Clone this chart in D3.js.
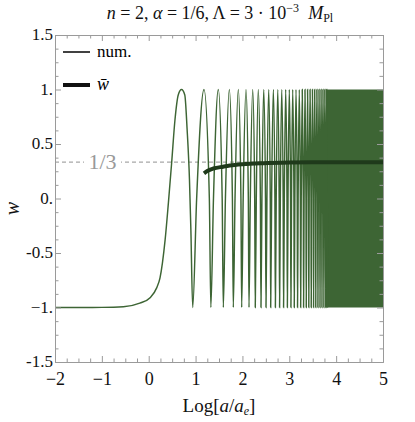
<!DOCTYPE html>
<html>
<head>
<meta charset="utf-8">
<script src="https://cdn.jsdelivr.net/npm/d3@7"></script>
<style>
  body { margin: 0; background: #fff; }
  text { font-family: "Liberation Serif", "Times New Roman", serif; }
</style>
</head>
<body>
<div id="chart"></div>
<script>
// start of the curve (w = -1 plateau, rise and first full peak)
const rampX = [-2, -1.5, -1, -0.54, -0.19, 0.03, 0.17, 0.24, 0.35, 0.42, 0.49, 0.56, 0.63, 0.70, 0.77, 0.82, 0.87, 0.90];
const rampW = [-1, -1, -0.999, -0.993, -0.96, -0.91, -0.82, -0.73, -0.38, -0.04, 0.33, 0.72, 0.95, 1.0, 0.95, 0.63, 0.17, -0.29];

// oscillation: minima (w=-1), rising zero crossings, maxima (w=1), falling zero crossings
const troughX = [0.939, 1.326, 1.592, 1.805, 1.984, 2.140, 2.274, 2.396, 2.503, 2.603, 2.703, 2.793, 2.878, 2.959, 3.035,
                 3.106, 3.176, 3.243, 3.305, 3.362, 3.416, 3.468, 3.518, 3.565, 3.611, 3.655, 3.697, 3.738, 3.777, 3.815];
const riseX = [1.023, 1.382, 1.637, 1.842, 2.016, 2.168, 2.296, 2.416, 2.523, 2.623, 2.721, 2.809, 2.894, 2.973, 3.048,
               3.119, 3.189, 3.255, 3.316, 3.372, 3.425, 3.477, 3.526, 3.573, 3.619, 3.663, 3.704, 3.745, 3.784];
const peakX = [1.180, 1.485, 1.720, 1.912, 2.076, 2.219, 2.338, 2.454, 2.560, 2.659, 2.753, 2.838, 2.923, 3.000, 3.073,
               3.143, 3.213, 3.277, 3.335, 3.390, 3.443, 3.494, 3.542, 3.589, 3.634, 3.677, 3.718, 3.758, 3.797];
const fallX = [1.294, 1.568, 1.786, 1.968, 2.126, 2.262, 2.383, 2.492, 2.594, 2.693, 2.784, 2.869, 2.951, 3.027, 3.099,
               3.169, 3.236, 3.299, 3.356, 3.410, 3.463, 3.513, 3.560, 3.606, 3.650, 3.693, 3.734, 3.773, 3.811];

// unresolved fast oscillation, fills -1..1
const bandX = [3.78, 5];
const bandW = [-1, 1];

// averaged equation of state
const wbarX = [1.18, 1.25, 1.38, 1.59, 1.73, 2.0, 2.45, 3.0, 3.5, 4, 5];
const wbarW = [0.231, 0.252, 0.275, 0.292, 0.302, 0.314, 0.324, 0.330, 0.332, 0.333, 0.333];

const radW = 1 / 3;

const xTicks = [-2, -1, 0, 1, 2, 3, 4, 5];
const xTickLabels = ["\u22122", "\u22121", "0", "1", "2", "3", "4", "5"];
const yTicks = [-1.5, -1, -0.5, 0, 0.5, 1, 1.5];
const yTickLabels = ["-1.5", "\u22121.", "-0.5", "0.", "0.5", "1.", "1.5"];

const width = 415, height = 422;
const m = { left: 55, right: 383, top: 35, bottom: 362 };

const green = "#3d6534";
const frameColor = "#9a9a9a";
const serif = "'Liberation Serif', 'Times New Roman', serif";

const svg = d3.select("#chart").append("svg")
  .attr("width", width)
  .attr("height", height);

const x = d3.scaleLinear().domain([-2, 5]).range([m.left, m.right]);
const y = d3.scaleLinear().domain([-1.5, 1.5]).range([m.bottom, m.top]);

svg.append("clipPath").attr("id", "plot")
  .append("rect")
  .attr("x", m.left).attr("y", m.top)
  .attr("width", m.right - m.left).attr("height", m.bottom - m.top);

// dashed 1/3 line
svg.append("line")
  .attr("x1", x(-2)).attr("x2", x(5))
  .attr("y1", y(radW)).attr("y2", y(radW))
  .attr("stroke", "#a8a8a8")
  .attr("stroke-width", 1.3)
  .attr("stroke-dasharray", "4,3");

// label 1/3 with white box to break the dashes
const lbl = svg.append("g");
lbl.append("rect")
  .attr("x", 84).attr("y", y(radW) - 11)
  .attr("width", 37).attr("height", 22)
  .attr("fill", "#fff");
lbl.append("text")
  .attr("x", 102.5).attr("y", y(radW) + 7)
  .attr("text-anchor", "middle")
  .attr("font-family", serif)
  .attr("font-size", 22)
  .attr("fill", "#999")
  .text("1/3");

// build oscillating curve
let pts = rampX.map((d, i) => [d, rampW[i]]);
troughX.forEach((t, i) => {
  pts.push([t, -1]);
  if (i < peakX.length) {
    pts.push([riseX[i], 0]);
    pts.push([peakX[i], 1]);
    pts.push([fallX[i], 0]);
  }
});

const line = d3.line()
  .x(d => x(d[0]))
  .y(d => y(d[1]))
  .curve(d3.curveMonotoneX);

const plot = svg.append("g").attr("clip-path", "url(#plot)");

plot.append("path")
  .datum(bandX)
  .attr("d", d3.area().x(d => x(d)).y0(y(bandW[0])).y1(y(bandW[1])))
  .attr("fill", green);

plot.append("path")
  .datum(pts)
  .attr("d", line)
  .attr("fill", "none")
  .attr("stroke", green)
  .attr("stroke-width", 1.45);

plot.append("path")
  .datum(wbarX.map((d, i) => [d, wbarW[i]]))
  .attr("d", line)
  .attr("fill", "none")
  .attr("stroke", "#1f3a1b")
  .attr("stroke-width", 4);

// frame + ticks
const minorX = d3.range(-2, 5.001, 0.25).filter(v => !xTicks.includes(v));
const minorY = d3.range(-1.5, 1.5001, 0.125).filter(v => !yTicks.includes(v));

function drawAxis(axis, pos, ticks, size, labels) {
  const g = svg.append("g").attr("transform", pos).call(axis.tickValues(ticks).tickSize(size).tickSizeOuter(0));
  g.select(".domain").attr("stroke", frameColor);
  g.selectAll(".tick line").attr("stroke", frameColor);
  if (labels) {
    g.attr("font-family", serif).attr("font-size", 18);
    g.selectAll(".tick text").text((d, i) => labels[i]).attr("fill", "#111");
  } else {
    g.selectAll(".tick text").remove();
  }
  return g;
}

drawAxis(d3.axisBottom(x), `translate(0,${m.bottom})`, minorX, -3.5, null);
drawAxis(d3.axisTop(x), `translate(0,${m.top})`, minorX, -3.5, null);
drawAxis(d3.axisLeft(y), `translate(${m.left},0)`, minorY, -3.5, null);
drawAxis(d3.axisRight(y), `translate(${m.right},0)`, minorY, -3.5, null);

const bx = drawAxis(d3.axisBottom(x), `translate(0,${m.bottom})`, xTicks, -6, xTickLabels);
bx.selectAll(".tick text").attr("y", 10).attr("dy", "0.71em");
drawAxis(d3.axisTop(x), `translate(0,${m.top})`, xTicks, -6, null);
const ly = drawAxis(d3.axisLeft(y), `translate(${m.left},0)`, yTicks, -6, yTickLabels);
ly.attr("font-size", 17);
ly.selectAll(".tick text").attr("x", -2).attr("dy", "0.28em");
drawAxis(d3.axisRight(y), `translate(${m.right},0)`, yTicks, -6, null);

// legend
const leg = svg.append("g").attr("font-family", serif);
leg.append("line").attr("x1", 63).attr("x2", 90).attr("y1", 52).attr("y2", 52)
  .attr("stroke", "#111").attr("stroke-width", 1.6);
leg.append("text").attr("x", 97).attr("y", 57).attr("font-size", 17).text("num.");
leg.append("line").attr("x1", 63).attr("x2", 90).attr("y1", 85).attr("y2", 85)
  .attr("stroke", "#111").attr("stroke-width", 4);
leg.append("text").attr("x", 97).attr("y", 90).attr("font-size", 18)
  .attr("font-style", "italic").text("w\u0304");

// title
const title = svg.append("text")
  .attr("x", (m.left + m.right) / 2 + 1).attr("y", 19)
  .attr("text-anchor", "middle")
  .attr("font-family", serif)
  .attr("font-size", 18)
  .attr("fill", "#111");
title.append("tspan").attr("font-style", "italic").text("n");
title.append("tspan").text(" = 2, ");
title.append("tspan").attr("font-style", "italic").text("\u03b1");
title.append("tspan").text(" = 1/6, \u039b = 3 \u00b7 10");
title.append("tspan").attr("dy", -7).attr("font-size", 12).text("\u22123");
title.append("tspan").attr("dy", 7).text("\u2002");
title.append("tspan").attr("font-style", "italic").text("M");
title.append("tspan").attr("dy", 3).attr("font-size", 12).text("Pl");

// axis labels
const xl = svg.append("text")
  .attr("x", (m.left + m.right) / 2).attr("y", 412)
  .attr("text-anchor", "middle")
  .attr("font-family", serif)
  .attr("font-size", 19)
  .attr("fill", "#111");
xl.append("tspan").text("Log[");
xl.append("tspan").attr("font-style", "italic").text("a");
xl.append("tspan").text("/");
xl.append("tspan").attr("font-style", "italic").text("a");
xl.append("tspan").attr("font-style", "italic").attr("font-size", 12).attr("dy", 3).text("e");
xl.append("tspan").attr("dy", -3).text("]");

svg.append("text")
  .attr("transform", `translate(19,${(m.top + m.bottom) / 2 + 10}) rotate(-90)`)
  .attr("text-anchor", "middle")
  .attr("font-family", serif)
  .attr("font-size", 20)
  .attr("font-style", "italic")
  .attr("fill", "#111")
  .text("w");
</script>
</body>
</html>
